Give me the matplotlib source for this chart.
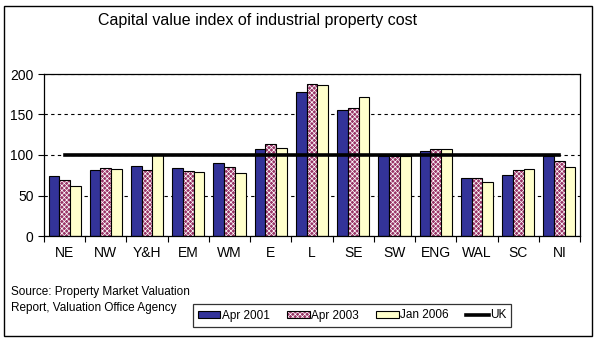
import numpy as np
import matplotlib
matplotlib.use('Agg')
import matplotlib.pyplot as plt
from matplotlib.patches import Rectangle, Patch
from matplotlib.lines import Line2D

plt.rcParams['font.family'] = ['Liberation Sans', 'DejaVu Sans']
plt.rcParams['hatch.linewidth'] = 0.5

regions = ['NE', 'NW', 'Y&H', 'EM', 'WM', 'E', 'L', 'SE', 'SW', 'ENG', 'WAL', 'SC', 'NI']
apr2001 = [74, 82, 87, 84, 90, 108, 178, 155, 99, 105, 72, 75, 99]
apr2003 = [69, 84, 82, 80, 85, 113, 188, 158, 99, 107, 72, 82, 93]
jan2006 = [62, 83, 101, 79, 78, 109, 187, 171, 99, 108, 67, 83, 85]
uk = 100

blue = '#333399'
pink = '#993366'
yellow = '#ffffcc'
hatch = 'xxxxxxx'

fig = plt.figure(figsize=(6, 3.4), dpi=100)
ax = fig.add_axes([44/600, 1-236/340, 536/600, 162/340])

x = np.arange(len(regions))
w = 0.26
ax.bar(x - w, apr2001, w, color=blue, edgecolor='black', linewidth=0.8, zorder=2)
# checkered bars: white hatch on magenta, then black outline on top
ax.bar(x, apr2003, w, color=pink, edgecolor='white', hatch=hatch, linewidth=0, zorder=2)
ax.bar(x, apr2003, w, fill=False, edgecolor='black', linewidth=0.8, zorder=2)
ax.bar(x + w, jan2006, w, color=yellow, edgecolor='black', linewidth=0.8, zorder=2)
ax.plot([x[0], x[-1]], [uk, uk], color='black', linewidth=2.6, zorder=3)

ax.set_xlim(-0.5, len(regions) - 0.5)
ax.set_ylim(0, 200)
ax.set_yticks([0, 50, 100, 150, 200])
ax.set_xticks(np.arange(len(regions) + 1) - 0.5)
ax.set_xticklabels([])
ax.set_xticks(x, minor=True)
ax.set_xticklabels(regions, minor=True)
ax.tick_params(axis='x', which='major', length=4, direction='out')
ax.tick_params(axis='x', which='minor', length=0, pad=7, labelsize=10)
ax.tick_params(axis='y', length=4, labelsize=10)
ax.yaxis.grid(True, color='black', linestyle=(0, (3, 3)), linewidth=0.8)
ax.set_axisbelow(True)
for s in ax.spines.values():
    s.set_linewidth(0.9)

fig.text(258/600, 1-20/340, 'Capital value index of industrial property cost',
         ha='center', va='center', fontsize=11.5)
fig.text(11/600, 1-292/340, 'Source: Property Market Valuation', fontsize=8.5, va='center')
fig.text(11/600, 1-308/340, 'Report, Valuation Office Agency', fontsize=8.5, va='center')

handles = [Patch(facecolor=blue, edgecolor='black', linewidth=0.8),
           (Patch(facecolor=pink, edgecolor='white', hatch=hatch, linewidth=0),
            Patch(fill=False, edgecolor='black', linewidth=0.8)),
           Patch(facecolor=yellow, edgecolor='black', linewidth=0.8),
           Line2D([], [], color='black', linewidth=2.6)]
leg = fig.legend(handles, ['Apr 2001', 'Apr 2003', 'Jan 2006', 'UK'], ncol=4,
                 loc='center', bbox_to_anchor=(352/600, 1-315.5/340), fontsize=8.5,
                 frameon=True, fancybox=False, handlelength=1.9, handleheight=0.6,
                 handletextpad=0.1, columnspacing=1.5, borderpad=0.45)
leg.get_frame().set_edgecolor('black')
leg.get_frame().set_linewidth(0.9)

fig.patches.append(Rectangle((4/600, 4/340), 588/600, 330/340, transform=fig.transFigure,
                             fill=False, edgecolor='black', linewidth=1.0))

fig.savefig('out.png', dpi=100)
